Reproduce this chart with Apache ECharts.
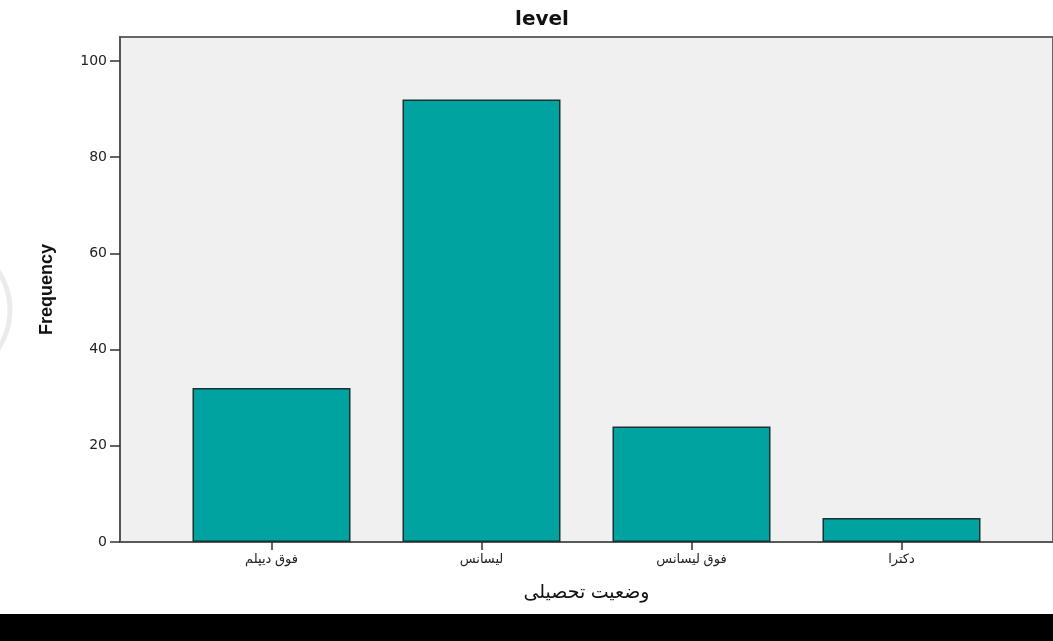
<!DOCTYPE html>
<html>
<head>
<meta charset="utf-8">
<script src="https://cdn.jsdelivr.net/npm/echarts@6/dist/echarts.min.js"></script>
<style>
  html, body { margin: 0; padding: 0; background: #fff; }
  #chart { width: 1053px; height: 641px; }
</style>
</head>
<body>
<div id="chart"></div>
<script>
// Education level frequencies
const categories = ['فوق دیپلم', 'لیسانس', 'فوق لیسانس', 'دکترا'];
const frequencies = [32, 92, 24, 5];
const yTicks = [0, 20, 40, 60, 80, 100];

const FONT = 'Arial, "Liberation Sans", "DejaVu Sans", sans-serif';
const chart = echarts.init(document.getElementById('chart'));

const gridTop = 37, gridBottom = 99;

chart.setOption({
  animation: false,
  title: {
    text: 'level',
    left: 537,
    top: 5,
    textAlign: 'center',
    textStyle: { fontFamily: '"DejaVu Sans", sans-serif', fontSize: 20, fontWeight: 'bold', color: '#111' }
  },
  grid: [
    // frame with grey background, y axis and x-axis baseline
    { left: 120, right: -3, top: gridTop, bottom: gridBottom, show: true,
      backgroundColor: '#f0f0f0', borderColor: '#666', borderWidth: 2 },
    // inner band holding the four bars
    { left: 166.5, width: 840, top: gridTop, bottom: gridBottom }
  ],
  xAxis: [
    { gridIndex: 0, type: 'value', min: 0, max: 1,
      axisLine: { show: true, onZero: false, lineStyle: { color: '#555', width: 1.5 } },
      axisTick: { show: false }, axisLabel: { show: false }, splitLine: { show: false },
      name: 'وضعیت تحصیلی', nameLocation: 'middle', nameGap: 41,
      nameTextStyle: { fontFamily: FONT, fontSize: 19, color: '#111' } },
    { gridIndex: 1, type: 'category', data: categories,
      axisLine: { show: false },
      axisTick: { show: true, alignWithLabel: true, length: 8, lineStyle: { color: '#333', width: 1.5 } },
      axisLabel: { fontFamily: FONT, fontSize: 13, color: '#222', margin: 11 } }
  ],
  yAxis: [
    { gridIndex: 0, type: 'value', min: 0, max: 105, interval: 20,
      axisLine: { show: true, lineStyle: { color: '#555', width: 2 } },
      axisTick: { show: true, length: 10, customValues: yTicks, lineStyle: { color: '#333', width: 1.5 } },
      axisLabel: { fontFamily: '"DejaVu Sans", sans-serif', fontSize: 14, color: '#222', margin: 13, customValues: yTicks },
      splitLine: { show: false },
      name: 'Frequency', nameLocation: 'middle', nameGap: 64, nameRotate: 90,
      nameTextStyle: { fontFamily: '"Liberation Sans Narrow", ' + FONT,
        fontSize: 18, fontWeight: 'bold', color: '#111' } },
    { gridIndex: 1, type: 'value', min: 0, max: 105, show: false }
  ],
  series: [{
    type: 'bar',
    xAxisIndex: 1, yAxisIndex: 1,
    data: frequencies,
    barWidth: 158,
    itemStyle: { color: '#00a39f', borderColor: '#173333', borderWidth: 1.5 }
  }],
  graphic: [
    { type: 'rect', left: 0, top: 614, shape: { width: 1053, height: 27 },
      style: { fill: '#000' }, silent: true },
    { type: 'arc', shape: { cx: -60, cy: 310, r: 70, startAngle: -0.6, endAngle: 0.6 },
      style: { stroke: '#ebebeb', lineWidth: 5, fill: null }, silent: true }
  ]
});
</script>
</body>
</html>
